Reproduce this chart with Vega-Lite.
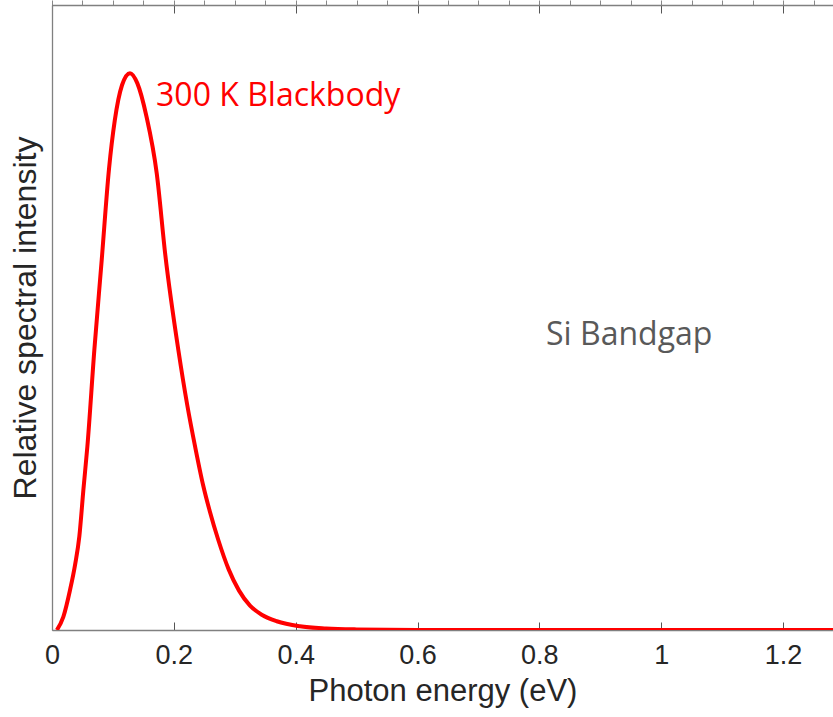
{
  "$schema": "https://vega.github.io/schema/vega-lite/v6.json",
  "width": 781,
  "height": 625,
  "autosize": {"type": "none"},
  "padding": {"left": 52, "top": 5, "right": 0, "bottom": 87},
  "background": "white",
  "config": {"view": {"stroke": null}, "font": "Liberation Sans"},
  "datasets": {
    "curve": [
      {"E": 0.008, "v": 0.0},
      {"E": 0.0186, "v": 0.021},
      {"E": 0.0296, "v": 0.064},
      {"E": 0.038, "v": 0.105},
      {"E": 0.0449, "v": 0.15},
      {"E": 0.0515, "v": 0.224},
      {"E": 0.058, "v": 0.293},
      {"E": 0.0695, "v": 0.448},
      {"E": 0.0816, "v": 0.592},
      {"E": 0.0936, "v": 0.738},
      {"E": 0.103, "v": 0.815},
      {"E": 0.115, "v": 0.872},
      {"E": 0.128, "v": 0.891},
      {"E": 0.14, "v": 0.875},
      {"E": 0.155, "v": 0.822},
      {"E": 0.172, "v": 0.73},
      {"E": 0.186, "v": 0.6},
      {"E": 0.2074, "v": 0.448},
      {"E": 0.222, "v": 0.36},
      {"E": 0.235, "v": 0.293},
      {"E": 0.248, "v": 0.232},
      {"E": 0.259, "v": 0.19},
      {"E": 0.273, "v": 0.144},
      {"E": 0.29, "v": 0.097},
      {"E": 0.307, "v": 0.063},
      {"E": 0.325, "v": 0.039},
      {"E": 0.345, "v": 0.024},
      {"E": 0.369, "v": 0.014},
      {"E": 0.407, "v": 0.006},
      {"E": 0.45, "v": 0.0025},
      {"E": 0.5, "v": 0.001},
      {"E": 0.6, "v": 0.0001},
      {"E": 0.8, "v": 0.0},
      {"E": 1.0, "v": 0.0},
      {"E": 1.4, "v": 0.0}
    ],
    "labels": [
      {"E": 0.1708, "v": 0.838, "text": "300 K Blackbody", "kind": "bb"},
      {"E": 0.811, "v": 0.456, "text": "Si Bandgap", "kind": "si"}
    ]
  },
  "layer": [
    {
      "data": {"name": "curve"},
      "mark": {"type": "line", "color": "#ff0000", "strokeWidth": 4, "clip": true, "interpolate": "monotone"},
      "encoding": {
        "x": {
          "field": "E", "type": "quantitative",
          "scale": {"domain": [0, 1.282], "nice": false, "zero": false},
          "axis": {
            "orient": "bottom",
            "title": "Photon energy (eV)",
            "values": [0, 0.2, 0.4, 0.6, 0.8, 1, 1.2],
            "format": "~g",
            "grid": false,
            "domainColor": "#808080",
            "domainWidth": 1.3,
            "tickColor": "#555555",
            "tickSize": -8,
            "tickWidth": 1,
            "labelFontSize": 27,
            "labelColor": "#262626",
            "labelPadding": 20,
            "labelFlush": false,
            "titleFontSize": 31,
            "titleFontWeight": "normal",
            "titleColor": "#262626",
            "titlePadding": 8
          }
        },
        "y": {
          "field": "v", "type": "quantitative",
          "scale": {"domain": [0, 1], "nice": false},
          "axis": {
            "title": "Relative spectral intensity",
            "labels": false,
            "ticks": false,
            "grid": false,
            "domainColor": "#808080",
            "domainWidth": 1.3,
            "titleFontSize": 32,
            "titleFontWeight": "normal",
            "titleColor": "#262626",
            "titlePadding": 10
          }
        }
      }
    },
    {
      "data": {"name": "labels"},
      "mark": {"type": "text", "align": "left", "baseline": "alphabetic", "font": "Open Sans", "fontSize": 32},
      "encoding": {
        "x": {"field": "E", "type": "quantitative"},
        "y": {"field": "v", "type": "quantitative"},
        "text": {"field": "text"},
        "color": {
          "field": "kind", "type": "nominal",
          "scale": {"domain": ["bb", "si"], "range": ["#ff0000", "#595959"]},
          "legend": null
        }
      }
    },
    {
      "data": {"values": [{"E": 0}]},
      "mark": {"type": "point", "opacity": 0},
      "encoding": {
        "x": {
          "field": "E", "type": "quantitative",
          "axis": {
            "orient": "top",
            "title": null,
            "labels": false,
            "values": [0, 0.2, 0.4, 0.6, 0.8, 1, 1.2],
            "grid": false,
            "domainColor": "#808080",
            "domainWidth": 1.3,
            "tickColor": "#555555",
            "tickSize": -8,
            "tickWidth": 1
          }
        }
      }
    }
  ],
  "resolve": {"axis": {"x": "independent"}}
}
